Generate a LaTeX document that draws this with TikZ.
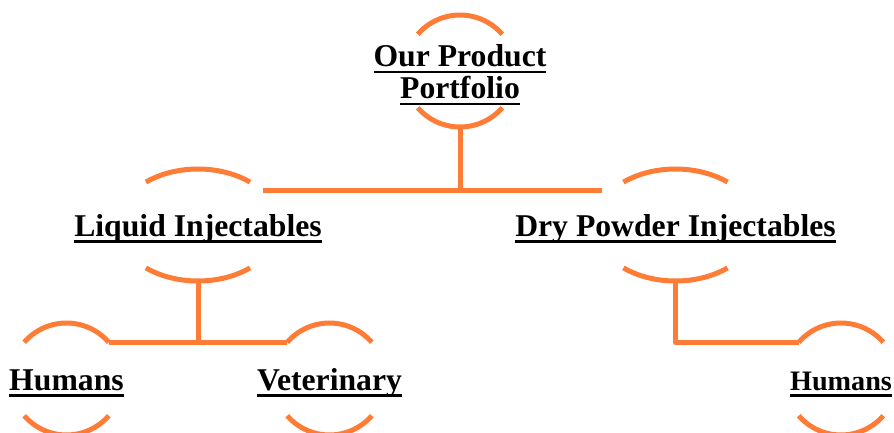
\documentclass[tikz,border=0pt]{standalone}
\usepackage{fontspec}
\setmainfont{Liberation Serif}
\usetikzlibrary{shapes.geometric}
\definecolor{ringorange}{RGB}{255,124,54}
\newcommand\ulbox[1]{\setbox0\hbox{#1}\rlap{\rule[-7pt]{\wd0}{2.6pt}}\box0}
\tikzset{
  ring/.style={draw=ringorange, line width=5pt},
  link/.style={draw=ringorange, line width=5pt, line join=round},
  item/.style={ellipse, inner sep=0pt, minimum height=112pt, font=\fontsize{31.7}{32}\selectfont\bfseries},
  oneline/.style={text height=27pt, text depth=5pt},
}

\begin{document}
\begin{tikzpicture}[x=1pt,y=1pt]
  \useasboundingbox (0,0) rectangle (894,-433);
  % category nodes
  \node[item, align=center] (portfolio) at (460,-71) {\rule{0pt}{30pt}\ulbox{Our Product}\\\ulbox{Portfolio}};
  \node[item, oneline] (liquid) at (198,-225) {\ulbox{Liquid Injectables}};
  \node[item, oneline] (powder) at (675.5,-225) {\ulbox{Dry Powder Injectables}};
  \node[item, oneline] (humansL) at (66.5,-379) {\ulbox{Humans}};
  \node[item, oneline] (vet) at (329.5,-379) {\ulbox{Veterinary}};
  \node[item, oneline, font=\fontsize{28.2}{30}\selectfont\bfseries] (humansR) at (841,-379) {\ulbox{Humans}};
  % arcs above and below each label
  \foreach \n/\rx/\a in {portfolio/56/41, liquid/81/50, powder/81/50, humansL/56/41, vet/56/41, humansR/56/41}{
    \coordinate (\n-l) at ([shift={(180-\a:\rx pt and 56pt)}]\n.center);
    \coordinate (\n-r) at ([shift={(\a:\rx pt and 56pt)}]\n.center);
    \draw[ring] (\n-l) arc[start angle=180-\a, end angle=\a, x radius=\rx pt, y radius=56pt];
    \draw[ring] ([shift={(180+\a:\rx pt and 56pt)}]\n.center) arc[start angle=180+\a, end angle=360-\a, x radius=\rx pt, y radius=56pt];
  }
  % connectors
  \coordinate (branchL) at (263,-190);
  \coordinate (branchR) at (602,-190);
  \draw[link] (portfolio.south) -- (portfolio.south |- branchL);
  \draw[link] (branchL) -- (branchR);
  \draw[link] (liquid.south) -- (liquid.south |- vet-l);
  \draw[link] (humansL-r) -- (vet-l);
  \draw[link] (powder.south) |- (humansR-l);
\end{tikzpicture}
\end{document}
